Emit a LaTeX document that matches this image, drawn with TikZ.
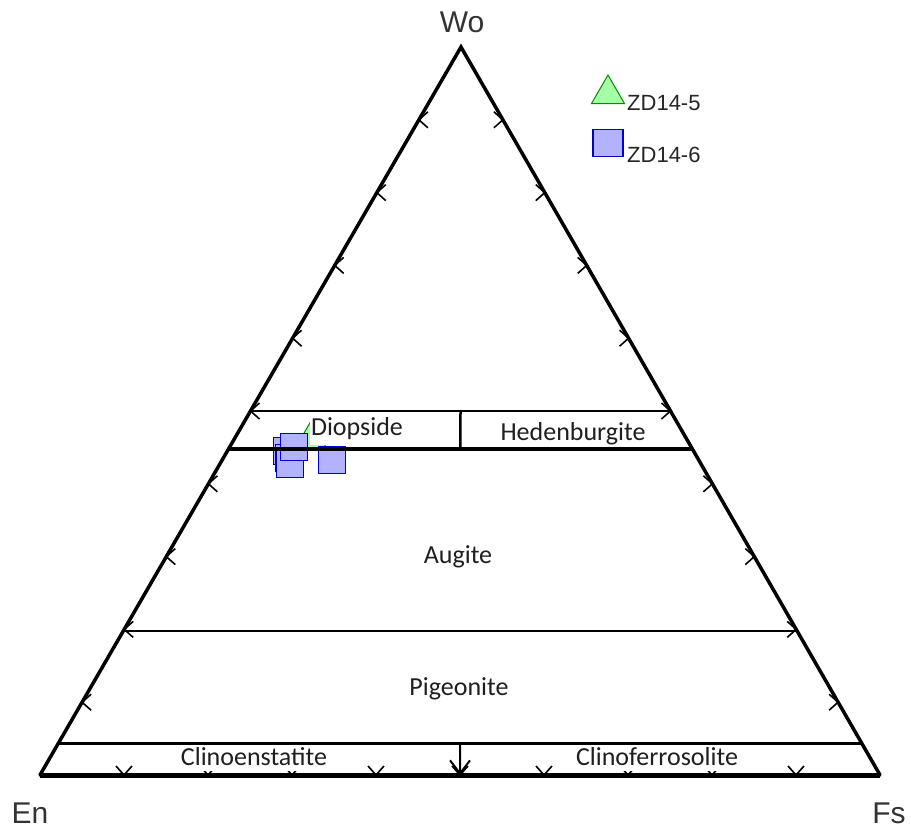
\documentclass[tikz,border=0pt]{standalone}
\usepackage{fontspec}
\setmainfont{Liberation Sans}
\newfontfamily\calibri{Carlito}
\usetikzlibrary{calc,arrows.meta,shapes.geometric}

\begin{document}
\begin{tikzpicture}
  [x=1pt, y=-1pt,
   edge/.style={line width=3.5pt, line join=miter, line cap=round},
   field/.style={line width=2.5pt},
   tickmark/.style={line width=1.6pt},
   region/.style={font=\calibri\fontsize{26}{28}\selectfont, text=black!88, fill=white,
                  inner xsep=1pt, inner ysep=6pt, anchor=base},
   corner/.style={font=\fontsize{30}{34}\selectfont, text=black!80, anchor=base},
   legend/.style={font=\fontsize{22}{26}\selectfont, text=black!85, anchor=base west, inner sep=0pt},
   zd5/.style={regular polygon, regular polygon sides=3, minimum size=38pt, inner sep=0pt,
               draw=green!55!black, fill=green!35!white, line width=1pt},
   zd6/.style={rectangle, minimum width=27pt, minimum height=27pt, inner sep=0pt,
               draw=blue!80!black, fill=blue!30!white, line width=1.6pt}]

  \useasboundingbox (0,0) rectangle (911,828);
  \coordinate (En) at (40,775);
  \coordinate (Fs) at (880,775);
  \coordinate (Wo) at (461,47);

  % ticks every 10%
  \foreach \k in {1,...,9} {
    \draw[tickmark] ($(En)!\k/10!(Wo)$) ++(9,-8) -- ++(-9,8) -- ++(9,8);
    \draw[tickmark] ($(Fs)!\k/10!(Wo)$) ++(-9,-8) -- ++(9,8) -- ++(-9,8);
    \draw[tickmark] ($(En)!\k/10!(Fs)$) ++(-8,-9) -- ++(8,9) -- ++(8,-9);
  }

  % data
  \node[zd5] (t1) at (311,440) {};
  \node[zd6] (s1) at (287,451) {};
  \node[zd6] (s2) at (289,458) {};
  \node[zd6] (s3) at (290,464) {};
  \node[zd6] (s4) at (294,447) {};
  \node[zd6] (s5) at (332,460) {};

  % fields
  \node[region] (diopside) at (357,435) {Diopside};
  \node[region] (hedenburgite) at (573,440) {Hedenburgite};
  \node[region] (augite) at (458,563) {Augite};
  \node[region] (pigeonite) at (459,695) {Pigeonite};
  \node[region] (clinoen) at (254,765) {Clinoenstatite};
  \node[region] (clinofs) at (657,765) {Clinoferrosolite};

  \coordinate (di-l) at ($(En)!0.5!(Wo)$);
  \coordinate (di-r) at ($(Fs)!0.5!(Wo)$);
  \coordinate (au-l) at ($(En)!0.448!(Wo)$);
  \coordinate (au-r) at ($(Fs)!0.448!(Wo)$);
  \coordinate (pi-l) at ($(En)!0.198!(Wo)$);
  \coordinate (pi-r) at ($(Fs)!0.198!(Wo)$);
  \coordinate (cl-l) at ($(En)!0.043!(Wo)$);
  \coordinate (cl-r) at ($(Fs)!0.043!(Wo)$);
  \coordinate (di-m) at ($(di-l)!0.5!(di-r)$);
  \coordinate (au-m) at ($(au-l)!0.5!(au-r)$);
  \coordinate (cl-m) at ($(cl-l)!0.5!(cl-r)$);
  \coordinate (base-m) at ($(En)!0.5!(Fs)$);

  \draw[field] (di-l) -- (di-r);
  \draw[line width=4.5pt] (au-l) -- (au-r);
  \draw[field] (pi-l) -- (pi-r);
  \draw[field] (cl-l) -- (cl-r);
  \draw[field] (di-m) -- (au-m);
  \draw[line width=2pt, -{Straight Barb[length=13pt, width=20pt]}] (cl-m) -- (base-m);

  \draw[edge] (En) -- (Wo) -- (Fs);
  \draw[line width=5pt] (En) -- (Fs);

  \node[corner] (wo) at (462,32) {Wo};
  \node[corner] (en) at (30,823) {En};
  \node[corner] (fs) at (889,823) {Fs};

  % legend
  \node[zd5] (key5) at (608,94) {};
  \node[legend] (lab5) at (627,110) {ZD14-5};
  \node[zd6, minimum width=30pt] (key6) at (608,143) {};
  \node[legend] (lab6) at (627,162) {ZD14-6};
\end{tikzpicture}
\end{document}
